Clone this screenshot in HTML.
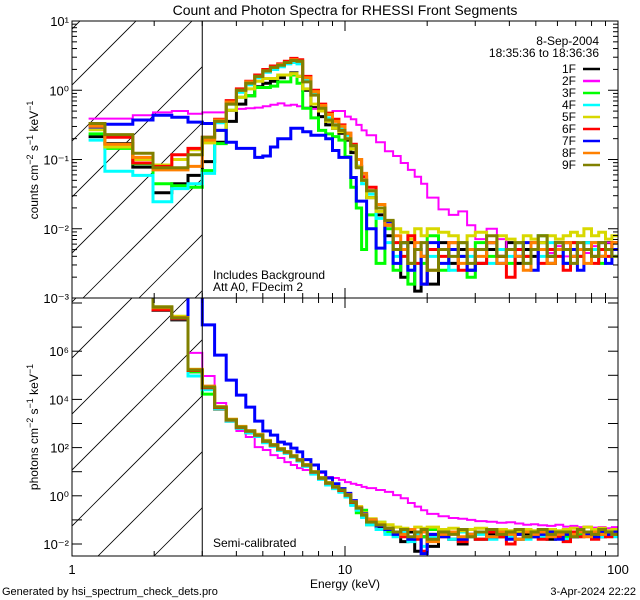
<!DOCTYPE html>
<html><head><meta charset="utf-8"><style>
html,body{margin:0;padding:0;background:#fff;}
svg{display:block;font-family:"Liberation Sans",sans-serif;}
</style></head><body>
<svg id="chart" width="640" height="600" viewBox="0 0 640 600" xmlns="http://www.w3.org/2000/svg">
<defs>
<clipPath id="clipTop"><rect x="72" y="21" width="546" height="277"/></clipPath>
<clipPath id="clipBot"><rect x="72" y="298" width="546" height="258"/></clipPath>
<clipPath id="hatchTop"><rect x="72" y="21" width="130" height="277"/></clipPath>
<clipPath id="hatchBot"><rect x="72" y="298" width="130" height="258"/></clipPath>
</defs>
<rect width="640" height="600" fill="#fff"/>
<text x="345" y="15" font-size="14" text-anchor="middle">Count and Photon Spectra for RHESSI Front Segments</text>
<g id="hatch"></g>
<g id="series"></g>
<g id="axes"></g>
<text x="213" y="279" font-size="12">Includes Background</text>
<text x="213" y="291" font-size="12">Att A0, FDecim 2</text>
<text x="213" y="547" font-size="12">Semi-calibrated</text>
<text x="599" y="45" font-size="12" text-anchor="end">8-Sep-2004</text>
<text x="599" y="57" font-size="12" text-anchor="end">18:35:36 to 18:36:36</text>
<g id="legend"></g>
<text x="345" y="588" font-size="12" text-anchor="middle">Energy (keV)</text>
<text x="2" y="595" font-size="11">Generated by hsi_spectrum_check_dets.pro</text>
<text x="636" y="595" font-size="11" text-anchor="end">3-Apr-2024 22:22</text>
<text transform="translate(38,160) rotate(-90)" font-size="12" text-anchor="middle">counts cm<tspan dy="-5" font-size="9">−2</tspan><tspan dy="5"> s</tspan><tspan dy="-5" font-size="9">−1</tspan><tspan dy="5"> keV</tspan><tspan dy="-5" font-size="9">−1</tspan></text>
<text transform="translate(38,427) rotate(-90)" font-size="12" text-anchor="middle">photons cm<tspan dy="-5" font-size="9">−2</tspan><tspan dy="5"> s</tspan><tspan dy="-5" font-size="9">−1</tspan><tspan dy="5"> keV</tspan><tspan dy="-5" font-size="9">−1</tspan></text>
</svg>
<script>
const edges = [1.15,1.32,1.67,1.98,2.32,2.66,3.0,3.33,3.67,4.0,4.33,4.67,5.0,5.33,5.67,6.0,6.33,6.67,7.0,7.5,8,8.5,9,9.5,10,10.5,11,11.5,12,13,14,15,16,17,18,19,20,22,24,26,28,30,33,36,39,42,45,48,51,55,59,63,67,71,75,80,85,90,95,100];
const segNames = ["1F","2F","3F","4F","5F","6F","7F","8F","9F"];
const segColors = ["#000000","#ff00ff","#00ff00","#00ffff","#d8d800","#ff0000","#0000ff","#ff8000","#808000"];
const xTickLabels = ["1","10","100"];
const topTickLabels = ["10⁻³","10⁻²","10⁻¹","10⁰","10¹"];
const botTickLabels = ["10⁻²","10⁰","10²","10⁴","10⁶"];
// log10 counts
const top1 = [-0.67,-0.77,-1.11,-1.48,-1.35,-1.23,-1.03,-0.75,-0.45,-0.2,-0.08,0.05,0.1,0.13,0.18,0.22,0.25,0.2,0.0,-0.25,-0.38,-0.5,-0.55,-0.62,-0.72,-0.9,-1.1,-1.3,-1.55,-1.8,-2.1,-2.3,-2.7,-2.2,-2.9,-2.4,-2.8,-2.2,-2.5,-2.3,-2.6,-2.5,-2.3,-2.4,-2.2,-2.5,-2.3,-2.4,-2.2,-2.5,-2.3,-2.2,-2.4,-2.3,-2.2,-2.3,-2.4,-2.2,-2.3];
const top2 = [-0.41,-0.41,-0.36,-0.32,-0.30,-0.34,-0.32,-0.32,-0.3,-0.27,-0.26,-0.25,-0.23,-0.21,-0.19,-0.22,-0.21,-0.23,-0.25,-0.27,-0.3,-0.33,-0.3,-0.3,-0.38,-0.42,-0.5,-0.58,-0.65,-0.75,-0.88,-0.95,-1.05,-1.15,-1.25,-1.35,-1.55,-1.72,-1.8,-1.75,-1.95,-2.15,-2.0,-2.15,-2.3,-2.2,-2.4,-2.3,-2.2,-2.35,-2.25,-2.4,-2.3,-2.2,-2.35,-2.25,-2.3,-2.2,-2.3];
const top3 = [-0.63,-0.84,-1.06,-1.35,-1.38,-1.4,-1.16,-0.77,-0.29,-0.1,-0.08,0.04,0.04,0.06,0.12,0.12,0.22,0.1,-0.26,-0.4,-0.58,-0.63,-0.67,-0.72,-0.96,-1.4,-1.7,-2.3,-1.8,-2.5,-2.0,-2.6,-2.2,-2.8,-2.3,-2.5,-2.1,-2.6,-2.3,-2.4,-2.7,-2.2,-2.4,-2.3,-2.5,-2.2,-2.4,-2.3,-2.1,-2.4,-2.3,-2.5,-2.2,-2.4,-2.3,-2.2,-2.5,-2.3,-2.4];
const top4 = [-0.72,-1.17,-1.23,-1.61,-1.42,-1.35,-1.2,-0.47,-0.2,-0.03,0.08,0.18,0.26,0.3,0.34,0.38,0.4,0.38,0.15,-0.05,-0.25,-0.4,-0.5,-0.55,-0.65,-0.85,-1.1,-1.35,-1.5,-1.85,-2.2,-2.4,-2.2,-2.6,-2.3,-2.8,-2.4,-2.3,-2.6,-2.2,-2.4,-2.3,-2.5,-2.3,-2.4,-2.2,-2.5,-2.3,-2.4,-2.2,-2.3,-2.5,-2.3,-2.4,-2.2,-2.3,-2.4,-2.3,-2.4];
const top5 = [-0.57,-0.82,-1.0,-1.08,-1.0,-0.86,-0.76,-0.58,-0.29,-0.1,0.02,0.13,0.17,0.17,0.22,0.22,0.24,0.2,0.02,-0.2,-0.3,-0.45,-0.55,-0.6,-0.7,-0.85,-1.1,-1.3,-1.55,-1.75,-1.9,-2.0,-2.05,-2.15,-2.0,-2.1,-2.0,-2.05,-2.1,-2.2,-2.1,-2.05,-2.2,-2.1,-2.15,-2.2,-2.1,-2.15,-2.2,-2.1,-2.15,-2.1,-2.05,-2.1,-2.0,-2.1,-2.05,-2.15,-2.1];
const top6 = [-0.49,-0.68,-1.05,-1.1,-0.93,-0.84,-0.68,-0.42,-0.15,0.02,0.13,0.22,0.3,0.35,0.38,0.42,0.46,0.44,0.2,0.0,-0.2,-0.33,-0.42,-0.5,-0.62,-0.78,-1.0,-1.25,-1.4,-1.7,-1.95,-2.2,-2.4,-2.1,-2.5,-2.8,-2.3,-2.4,-2.2,-2.6,-2.3,-2.5,-2.2,-2.4,-2.7,-2.3,-2.4,-2.2,-2.5,-2.3,-2.4,-2.6,-2.2,-2.4,-2.3,-2.5,-2.3,-2.4,-2.2];
const top7 = [-0.53,-0.49,-0.43,-0.36,-0.39,-0.46,-0.48,-0.58,-0.75,-0.84,-0.84,-0.97,-0.95,-0.82,-0.7,-0.7,-0.55,-0.55,-0.6,-0.65,-0.65,-0.7,-0.87,-0.97,-0.97,-1.26,-1.6,-1.6,-2.0,-2.28,-1.9,-2.5,-2.2,-2.6,-2.3,-2.8,-2.2,-2.5,-2.3,-2.4,-2.6,-2.3,-2.2,-2.5,-2.3,-2.4,-2.2,-2.6,-2.3,-2.4,-2.2,-2.5,-2.3,-2.6,-2.3,-2.4,-2.2,-2.5,-2.3];
const top8 = [-0.52,-0.78,-0.97,-1.15,-1.15,-1.1,-0.72,-0.43,-0.17,0.0,0.12,0.2,0.28,0.33,0.37,0.4,0.44,0.42,0.18,-0.02,-0.22,-0.35,-0.45,-0.52,-0.62,-0.8,-1.0,-1.2,-1.45,-1.65,-1.95,-2.1,-2.3,-2.5,-2.2,-2.4,-2.6,-2.3,-2.2,-2.5,-2.3,-2.4,-2.2,-2.5,-2.3,-2.4,-2.6,-2.2,-2.3,-2.5,-2.3,-2.2,-2.4,-2.3,-2.5,-2.2,-2.4,-2.3,-2.2];
const top9 = [-0.48,-0.64,-0.91,-1.12,-1.12,-0.93,-0.68,-0.45,-0.2,0.0,0.1,0.2,0.28,0.33,0.36,0.4,0.43,0.42,0.12,-0.07,-0.26,-0.43,-0.5,-0.58,-0.7,-0.8,-1.12,-1.3,-1.45,-1.7,-1.88,-2.3,-2.2,-2.5,-2.3,-2.2,-2.6,-2.3,-2.4,-2.2,-2.5,-2.3,-2.1,-2.4,-2.3,-2.2,-2.5,-2.3,-2.1,-2.4,-2.2,-2.3,-2.5,-2.2,-2.3,-2.4,-2.2,-2.3,-2.4];
// log10 photons
const bot1 = [9,9,9,7.7,7.3,5.15,4.45,3.6,3.1,2.8,2.62,2.48,2.22,2.08,1.9,1.78,1.62,1.45,1.25,0.95,0.72,0.5,0.35,0.2,0.0,-0.3,-0.55,-0.85,-1.15,-1.3,-1.45,-1.6,-1.9,-1.5,-2.3,-1.7,-2.1,-1.6,-1.8,-2.0,-1.7,-1.8,-1.6,-1.7,-1.5,-1.8,-1.6,-1.7,-1.5,-1.8,-1.6,-1.5,-1.7,-1.6,-1.5,-1.6,-1.7,-1.5,-1.6];
const bot2 = [9,9,9,7.83,7.38,5.93,4.97,3.85,3.15,2.69,2.44,2.02,1.9,1.69,1.57,1.4,1.28,1.15,1.07,0.99,0.95,0.78,0.74,0.66,0.57,0.5,0.45,0.37,0.32,0.24,0.16,0.03,-0.1,-0.3,-0.45,-0.6,-0.75,-0.85,-0.92,-0.95,-1.0,-1.05,-1.08,-1.12,-1.1,-1.15,-1.2,-1.18,-1.22,-1.25,-1.2,-1.28,-1.25,-1.3,-1.28,-1.32,-1.3,-1.35,-1.3];
const bot3 = [9,9,9,7.8,7.36,5.15,4.22,3.62,3.12,2.82,2.65,2.5,2.24,2.08,1.92,1.8,1.62,1.46,1.25,0.95,0.7,0.5,0.33,0.2,0.0,-0.35,-0.7,-0.6,-1.2,-1.1,-1.5,-1.6,-1.4,-1.8,-1.5,-1.7,-1.4,-1.6,-1.5,-1.8,-1.6,-1.5,-1.7,-1.5,-1.6,-1.4,-1.7,-1.5,-1.6,-1.4,-1.5,-1.7,-1.5,-1.6,-1.5,-1.4,-1.6,-1.5,-1.6];
const bot4 = [9,9,9,7.8,7.35,4.97,4.4,3.62,3.1,2.8,2.62,2.46,2.2,2.05,1.88,1.76,1.6,1.44,1.22,0.9,0.68,0.45,0.3,0.15,-0.05,-0.4,-0.6,-0.9,-1.2,-1.4,-1.6,-1.7,-1.5,-1.9,-1.6,-2.1,-1.7,-1.6,-1.8,-1.5,-1.7,-1.6,-1.8,-1.6,-1.7,-1.5,-1.8,-1.6,-1.7,-1.5,-1.6,-1.8,-1.6,-1.7,-1.5,-1.6,-1.7,-1.6,-1.7];
const bot5 = [9,9,9,7.85,7.45,5.25,4.5,3.68,3.18,2.88,2.7,2.55,2.3,2.13,1.96,1.84,1.67,1.5,1.3,1.0,0.76,0.55,0.38,0.25,0.05,-0.22,-0.45,-0.7,-0.95,-1.1,-1.2,-1.3,-1.35,-1.4,-1.3,-1.35,-1.3,-1.4,-1.35,-1.45,-1.4,-1.35,-1.45,-1.4,-1.45,-1.5,-1.4,-1.45,-1.5,-1.4,-1.45,-1.4,-1.35,-1.4,-1.3,-1.4,-1.35,-1.45,-1.4];
const bot6 = [9,9,9,7.72,7.35,5.2,4.48,3.66,3.14,2.84,2.68,2.51,2.26,2.1,1.93,1.81,1.64,1.48,1.27,0.98,0.73,0.52,0.36,0.22,0.02,-0.28,-0.5,-0.78,-1.05,-1.25,-1.4,-1.5,-1.7,-1.4,-1.8,-2.3,-1.6,-1.7,-1.5,-1.9,-1.6,-1.8,-1.5,-1.7,-2.0,-1.6,-1.7,-1.5,-1.8,-1.6,-1.7,-1.9,-1.5,-1.7,-1.6,-1.8,-1.6,-1.7,-1.5];
const bot7 = [9,9,9,7.83,7.38,9,7.09,5.84,4.8,4.18,3.68,3.1,2.69,2.52,2.23,2.15,1.98,1.82,1.5,1.28,0.99,0.74,0.5,0.3,0.1,-0.2,-0.5,-0.75,-1.0,-1.25,-1.4,-1.6,-1.4,-1.8,-1.5,-2.4,-1.6,-1.7,-1.5,-1.8,-1.6,-1.5,-1.7,-1.5,-1.8,-1.6,-1.5,-1.7,-1.6,-1.5,-1.8,-1.6,-1.7,-1.5,-1.6,-1.7,-1.5,-1.6,-1.5];
const bot8 = [9,9,9,7.8,7.4,5.24,4.55,3.7,3.17,2.87,2.7,2.53,2.28,2.12,1.95,1.83,1.66,1.5,1.29,1.0,0.75,0.54,0.38,0.24,0.04,-0.25,-0.48,-0.78,-1.0,-1.2,-1.35,-1.5,-1.6,-1.4,-1.7,-1.5,-1.9,-1.6,-1.5,-1.7,-1.6,-1.5,-1.7,-1.5,-1.6,-1.8,-1.5,-1.6,-1.5,-1.7,-1.6,-1.5,-1.6,-1.5,-1.7,-1.5,-1.6,-1.5,-1.6];
const bot9 = [9,9,9,7.83,7.38,5.22,4.51,3.68,3.15,2.85,2.69,2.52,2.27,2.11,1.94,1.82,1.65,1.49,1.28,0.99,0.74,0.53,0.37,0.24,0.03,-0.26,-0.51,-0.8,-1.09,-1.21,-1.34,-1.5,-1.4,-1.7,-1.5,-1.4,-1.8,-1.5,-1.6,-1.4,-1.7,-1.5,-1.4,-1.6,-1.5,-1.4,-1.7,-1.5,-1.4,-1.6,-1.5,-1.5,-1.7,-1.4,-1.5,-1.6,-1.4,-1.5,-1.6];

const topSeries = [top1,top2,top3,top4,top5,top6,top7,top8,top9];
const botSeries = [bot1,bot2,bot3,bot4,bot5,bot6,bot7,bot8,bot9];

const NS = "http://www.w3.org/2000/svg";
const L = 72, R = 618, T = 21, MID = 298, B = 556;
function xs(e){ return L + (R - L) / 2 * Math.log10(e); }
function yTop(l){ return T + (1 - l) * 69.25; }
function yBot(l){ return 544 - (l + 2) * 24.1; }
function mk(tag, attrs, parent){ const el = document.createElementNS(NS, tag); for (const k in attrs) el.setAttribute(k, attrs[k]); parent.appendChild(el); return el; }

// hatch
const hatch = document.getElementById('hatch');
[[T, MID, 'hatchTop'], [MID, B, 'hatchBot']].forEach(function(p, pi){
  const g = mk('g', {'clip-path': 'url(#' + p[2] + ')'}, hatch);
  const base = pi === 0 ? 157 : 598;
  for (let k = -8; k <= 8; k++) {
    const c = base + 56 * k;
    const ln = mk('line', {x1: c - 600, y1: 600, x2: c, y2: 0, stroke: '#000', 'stroke-width': 0.8}, g);
    
    
  }
});

// series
const sg = document.getElementById('series');
function stepPath(vals, yf){
  let d = '';
  const n = Math.min(vals.length, edges.length - 1);
  for (let i = 0; i < n; i++) {
    const x0 = xs(edges[i]).toFixed(1), x1 = xs(edges[i + 1]).toFixed(1);
    const y = Math.max(-50, Math.min(700, yf(vals[i]))).toFixed(1);
    d += (i === 0 ? 'M' : 'L') + x0 + ',' + y + 'L' + x1 + ',' + y;
  }
  return d;
}
const gTop = mk('g', {'clip-path': 'url(#clipTop)'}, sg);


const gBot = mk('g', {'clip-path': 'url(#clipBot)'}, sg);


for (let s = 0; s < 9; s++) {
  const w = s === 1 ? 2 : 3;
  const p1 = mk('path', {d: stepPath(topSeries[s], yTop), fill: 'none', stroke: segColors[s], 'stroke-width': w, 'stroke-linejoin': 'miter'}, gTop);
  
  
  const p2 = mk('path', {d: stepPath(botSeries[s], yBot), fill: 'none', stroke: segColors[s], 'stroke-width': w, 'stroke-linejoin': 'miter'}, gBot);
  
  
}

// axes
const ax = document.getElementById('axes');
function line(x1, y1, x2, y2, name){
  const l = mk('line', {x1: x1, y1: y1, x2: x2, y2: y2, stroke: '#000', 'stroke-width': 1}, ax);
  
  
}
const fr = mk('rect', {x: L, y: T, width: R - L, height: B - T, fill: 'none', stroke: '#000', 'stroke-width': 1}, ax);


line(L, MID, R, MID, 'panel-divider');
line(xs(3), T, xs(3), B, 'threshold-line-3kev');
// x ticks
for (let dec = 0; dec < 2; dec++) {
  for (let m = 1; m <= 9; m++) {
    const x = xs(Math.pow(10, dec) * m);
    const len = m === 1 ? 10 : 5;
    line(x, B, x, B - len, 'x-tick');
    line(x, MID, x, MID - len, 'x-tick');
    line(x, MID, x, MID + len, 'x-tick');
    line(x, T, x, T + len, 'x-tick');
  }
}
line(R, B, R, B - 10, 'x-tick');
xTickLabels.forEach(function(t, i){
  const tx = mk('text', {x: xs(Math.pow(10, i)), y: B + 18, 'font-size': 13, 'text-anchor': 'middle'}, ax);
  tx.textContent = t;
  
  
});
// top y ticks
for (let d = -3; d <= 1; d++) {
  const y = yTop(d);
  line(L, y, L + 10, y, 'top-y-tick');
  line(R, y, R - 10, y, 'top-y-tick');
  if (d < 1) for (let m = 2; m <= 9; m++) {
    const ym = yTop(d + Math.log10(m));
    line(L, ym, L + 5, ym, 'top-y-minor-tick');
    line(R, ym, R - 5, ym, 'top-y-minor-tick');
  }
}
topTickLabels.forEach(function(t, i){
  const tx = mk('text', {x: L - 3, y: yTop(i - 3) + 5, 'font-size': 13, 'text-anchor': 'end'}, ax);
  tx.textContent = t;
  
  
});
// bottom y ticks
for (let d = -2; d <= 8; d++) {
  const y = yBot(d);
  if (y < MID || y > B) continue;
  line(L, y, L + 10, y, 'bottom-y-tick');
  line(R, y, R - 10, y, 'bottom-y-tick');
}
botTickLabels.forEach(function(t, i){
  const tx = mk('text', {x: L - 3, y: yBot(i * 2 - 2) + 5, 'font-size': 13, 'text-anchor': 'end'}, ax);
  tx.textContent = t;
  
  
});

// legend
const lg = document.getElementById('legend');
segNames.forEach(function(n, i){
  const y = 69 + 12 * i;
  const tx = mk('text', {x: 576, y: y + 4, 'font-size': 12, 'text-anchor': 'end'}, lg);
  tx.textContent = n;
  
  
  const ln = mk('line', {x1: 583, y1: y, x2: 600, y2: y, stroke: segColors[i], 'stroke-width': 2.5}, lg);
  
  
});
</script>
</body></html>
